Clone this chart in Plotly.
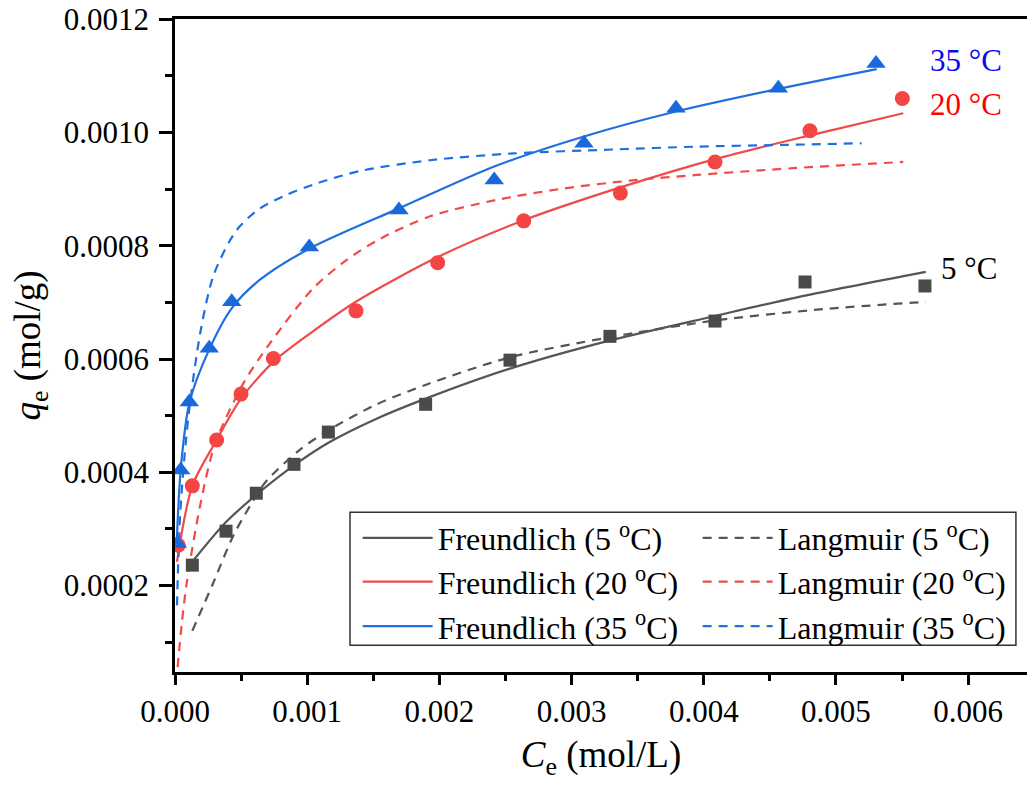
import plotly.graph_objects as go

ce_5 = [0.000131, 0.000386, 0.000615, 0.000900, 0.001160, 0.001896, 0.002534, 0.003290, 0.004085, 0.004766, 0.005673]
qe_5 = [0.000236, 0.000296, 0.000363, 0.000414, 0.000471, 0.000520, 0.000598, 0.000640, 0.000667, 0.000736, 0.000729]

ce_20 = [0.000025, 0.000131, 0.000315, 0.000499, 0.000744, 0.001369, 0.001987, 0.002638, 0.003369, 0.004085, 0.004803, 0.005502]
qe_20 = [0.000271, 0.000376, 0.000457, 0.000538, 0.000601, 0.000685, 0.000770, 0.000844, 0.000893, 0.000948, 0.001003, 0.001060]

ce_35 = [0.000017, 0.000043, 0.000108, 0.000259, 0.000429, 0.001016, 0.001694, 0.002415, 0.003094, 0.003790, 0.004564, 0.005303]
qe_35 = [0.000274, 0.000404, 0.000524, 0.000619, 0.000701, 0.000798, 0.000863, 0.000916, 0.000981, 0.001043, 0.001078, 0.001122]

# ---------------- fitted curves (sampled from the figure) ----------------
fr5_x = [0.000131, 0.000386, 0.000615, 0.000900, 0.001160, 0.001500, 0.001896, 0.002534, 0.003278, 0.004085, 0.004766, 0.005679]
fr5_y = [0.000242, 0.000312, 0.000360, 0.000412, 0.000452, 0.000492, 0.000530, 0.000583, 0.000632, 0.000676, 0.000712, 0.000754]

la5_x = [0.000131, 0.000290, 0.000441, 0.000592, 0.000693, 0.000946, 0.001160, 0.001526, 0.001904, 0.002534, 0.003278, 0.004085, 0.004900, 0.005679]
la5_y = [0.000120, 0.000205, 0.000288, 0.000350, 0.000385, 0.000440, 0.000474, 0.000520, 0.000555, 0.000603, 0.000638, 0.000668, 0.000688, 0.000701]

fr20_x = [0.000015, 0.000131, 0.000315, 0.000499, 0.000744, 0.001021, 0.001374, 0.001987, 0.002638, 0.003369, 0.004085, 0.004803, 0.005509]
fr20_y = [0.000242, 0.000376, 0.000457, 0.000530, 0.000595, 0.000645, 0.000702, 0.000780, 0.000845, 0.000903, 0.000953, 0.000995, 0.001034]

la20_x = [0.000020, 0.000050, 0.0000885, 0.000189, 0.000303, 0.000517, 0.000719, 0.001046, 0.001299, 0.001550, 0.001929, 0.002433, 0.002937, 0.003442, 0.003946, 0.004677, 0.005509]
la20_y = [0.000056, 0.000130, 0.000204, 0.000340, 0.000450, 0.000557, 0.000628, 0.000725, 0.000775, 0.000812, 0.000852, 0.000881, 0.000901, 0.000915, 0.000925, 0.000937, 0.000948]

fr35_x = [0.000012, 0.000043, 0.000108, 0.000259, 0.000430, 0.000643, 0.001026, 0.001694, 0.002415, 0.003094, 0.003790, 0.004564, 0.005308]
fr35_y = [0.000270, 0.000404, 0.000522, 0.000617, 0.000690, 0.000740, 0.000796, 0.000866, 0.000940, 0.000993, 0.001037, 0.001077, 0.001112]

la35_x = [0.000015, 0.000040, 0.000100, 0.000194, 0.000295, 0.000467, 0.000643, 0.000845, 0.001072, 0.001399, 0.001929, 0.002559, 0.003316, 0.003946, 0.004600, 0.005194]
la35_y = [0.000165, 0.000330, 0.000495, 0.000650, 0.000750, 0.000828, 0.000866, 0.000890, 0.000910, 0.000932, 0.000951, 0.000963, 0.000970, 0.000975, 0.000978, 0.000981]

x_ticks = [0.000, 0.001, 0.002, 0.003, 0.004, 0.005, 0.006]
y_ticks = [0.0002, 0.0004, 0.0006, 0.0008, 0.0010, 0.0012]

GRAY_M, GRAY_L = "#4a4a4a", "#555555"
RED_M, RED_L = "#f44444", "#f04a4a"
BLUE_M, BLUE_L = "#1a69dc", "#1f6fe0"
FONT = "Liberation Serif"

fig = go.Figure()

def curve(x, y, color, dash, name, legend):
    fig.add_trace(go.Scatter(x=x, y=y, mode="lines", name=name, legend=legend,
                             line=dict(color=color, width=2.2, dash=dash, shape="spline", smoothing=0.8)))

curve(fr5_x, fr5_y, GRAY_L, "solid", "Freundlich (5 <sup>o</sup>C)", "legend")
curve(la5_x, la5_y, GRAY_L, "9px,7px", "Langmuir (5 <sup>o</sup>C)", "legend")
curve(fr20_x, fr20_y, RED_L, "solid", "Freundlich (20 <sup>o</sup>C)", "legend2")
curve(la20_x, la20_y, RED_L, "9px,7px", "Langmuir (20 <sup>o</sup>C)", "legend2")
curve(fr35_x, fr35_y, BLUE_L, "solid", "Freundlich (35 <sup>o</sup>C)", "legend3")
curve(la35_x, la35_y, BLUE_L, "9px,7px", "Langmuir (35 <sup>o</sup>C)", "legend3")

fig.add_trace(go.Scatter(x=ce_5, y=qe_5, mode="markers", showlegend=False,
                         marker=dict(symbol="square", size=13, color=GRAY_M)))
fig.add_trace(go.Scatter(x=ce_20, y=qe_20, mode="markers", showlegend=False,
                         marker=dict(symbol="circle", size=15, color=RED_M)))
fig.add_trace(go.Scatter(x=ce_35, y=qe_35, mode="markers", showlegend=False,
                         marker=dict(symbol="triangle-up", size=17, color=BLUE_M)))

# temperature labels
fig.add_annotation(x=0.00598, y=0.001128, text="35 °C", showarrow=False,
                   font=dict(family=FONT, size=31, color="#0a0af0"))
fig.add_annotation(x=0.00598, y=0.00105, text="20 °C", showarrow=False,
                   font=dict(family=FONT, size=31, color="#ff0000"))
fig.add_annotation(x=0.00601, y=0.00076, text="5 °C", showarrow=False,
                   font=dict(family=FONT, size=31, color="#000000"))

leg_common = dict(orientation="h", xanchor="left", yanchor="middle", x=0.2144,
                  font=dict(family=FONT, size=32, color="black"),
                  bgcolor="rgba(0,0,0,0)", borderwidth=0, itemwidth=70,
                  entrywidth=255, itemclick=False)
fig.update_layout(
    legend=dict(y=0.205, **leg_common),
    legend2=dict(y=0.138, **leg_common),
    legend3=dict(y=0.070, **leg_common),
)

# legend frame
fig.add_shape(type="rect", xref="paper", yref="paper", x0=0.2054, x1=0.987, y0=0.041, y1=0.2448,
              line=dict(color="#333333", width=1.5))

fig.update_xaxes(range=[0, 0.006445], tickvals=x_ticks, tickformat=".3f",
                 showline=True, linecolor="black", linewidth=2.5, mirror=True,
                 ticks="outside", ticklen=10, tickwidth=2.5, tickcolor="black",
                 minor=dict(dtick=0.0005, tick0=0, ticks="outside", ticklen=6, tickwidth=2.5, tickcolor="black"),
                 showgrid=False, zeroline=False, ticklabeloverflow="allow",
                 tickfont=dict(family=FONT, size=31, color="black"),
                 title=dict(text="<i>C</i><sub>e</sub> (mol/L)", font=dict(family=FONT, size=37, color="black"), standoff=14))
fig.update_yaxes(range=[0.0000473, 0.0012004], tickvals=y_ticks, tickformat=".4f",
                 showline=True, linecolor="black", linewidth=2.5, mirror=False,
                 ticks="outside", ticklen=13, tickwidth=2.5, tickcolor="black",
                 minor=dict(dtick=0.0001, tick0=0, ticks="outside", ticklen=7, tickwidth=2.5, tickcolor="black"),
                 showgrid=False, zeroline=False, ticklabelstandoff=4, ticklabeloverflow="allow",
                 tickfont=dict(family=FONT, size=31, color="black"),
                 title=dict(text="<i>q</i><sub>e</sub> (mol/g)", font=dict(family=FONT, size=37, color="black"), standoff=12))

fig.update_layout(width=1027, height=787, plot_bgcolor="white", paper_bgcolor="white",
                  margin=dict(l=175, r=0, t=19, b=115, autoexpand=False))

fig.write_html("out.html", config={"displayModeBar": False},
               post_script="document.body.style.margin='0';")
